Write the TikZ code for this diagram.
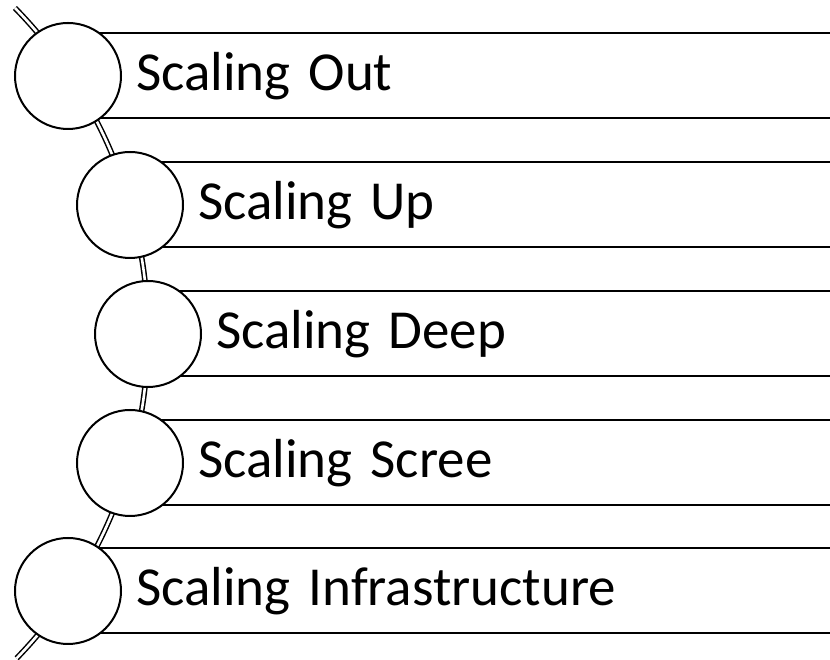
\documentclass[tikz,border=0pt]{standalone}
\usepackage{fontspec}
\setmainfont{Carlito}
\usetikzlibrary{positioning}
\tikzset{
  track/.style={draw, line width=1.5pt, double=white, double distance=2.6pt},
  dot/.style={circle, draw, line width=2pt, fill=white,
    minimum size=106pt, inner sep=0pt},
  bar/.style={rectangle, draw, line width=2pt, minimum height=85pt,
    text width=700pt, inner xsep=67pt, inner ysep=0pt, align=left,
    font=\fontsize{55}{60}\selectfont}
}

\begin{document}
\begin{tikzpicture}[x=1pt,y=1pt]

  \useasboundingbox (0,0) rectangle (830,660);
  \clip (0,0) rectangle (830,660);

  %%%%%%%%%%%%%%%%%%%%%%%%%%%%%%%%%%%%%%%%%%%%%%%%%%%%%%%%%%%%%%
  %                    CURVED TRACK                            %
  %%%%%%%%%%%%%%%%%%%%%%%%%%%%%%%%%%%%%%%%%%%%%%%%%%%%%%%%%%%%%%

  \coordinate (hub) at (-318,326);
  \draw[track] (hub) ++(44.4:466pt) arc[start angle=44.4, end angle=-44.1, radius=466pt];

  \coordinate (out-pos)   at (68,584);
  \coordinate (up-pos)    at (130,455);
  \coordinate (deep-pos)  at (148,326);
  \coordinate (scree-pos) at (130,197);
  \coordinate (infra-pos) at (68,69);

  %%%%%%%%%%%%%%%%%%%%%%%%%%%%%%%%%%%%%%%%%%%%%%%%%%%%%%%%%%%%%%
  %                    BARS                                    %
  %%%%%%%%%%%%%%%%%%%%%%%%%%%%%%%%%%%%%%%%%%%%%%%%%%%%%%%%%%%%%%

  \node [bar, right = 0pt of out-pos]   (out-bar)   {Scaling Out};
  \node [bar, right = 0pt of up-pos]    (up-bar)    {Scaling Up};
  \node [bar, right = 0pt of deep-pos]  (deep-bar)  {Scaling Deep};
  \node [bar, right = 0pt of scree-pos] (scree-bar) {Scaling Scree};
  \node [bar, right = 0pt of infra-pos] (infra-bar) {Scaling Infrastructure};

  %%%%%%%%%%%%%%%%%%%%%%%%%%%%%%%%%%%%%%%%%%%%%%%%%%%%%%%%%%%%%%
  %                    CIRCLES                                 %
  %%%%%%%%%%%%%%%%%%%%%%%%%%%%%%%%%%%%%%%%%%%%%%%%%%%%%%%%%%%%%%

  \node [dot] at (out-pos)   (out-dot)   {};
  \node [dot] at (up-pos)    (up-dot)    {};
  \node [dot] at (deep-pos)  (deep-dot)  {};
  \node [dot] at (scree-pos) (scree-dot) {};
  \node [dot] at (infra-pos) (infra-dot) {};

\end{tikzpicture}
\end{document}
